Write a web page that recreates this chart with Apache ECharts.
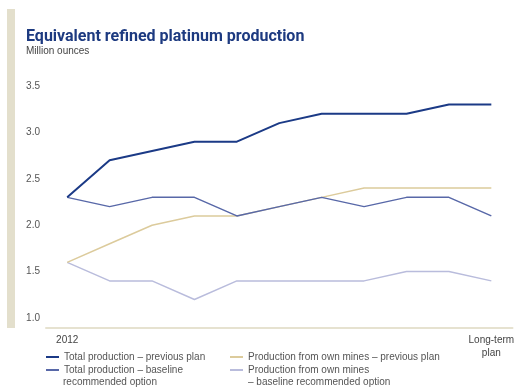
<!DOCTYPE html>
<html>
<head>
<meta charset="utf-8">
<script src="https://cdn.jsdelivr.net/npm/echarts@6/dist/echarts.min.js"></script>
<style>
  html, body { margin: 0; padding: 0; background: #fff; }
  #chart { width: 517px; height: 387px; }
</style>
</head>
<body>
<div id="chart"></div>
<script>
// Annual steps from 2012 out to the long-term plan
const categories = ['2012', '2013', '2014', '2015', '2016', '2017', '2018', '2019', '2020', '2021', 'Long-term\nplan'];

// Million ounces of equivalent refined platinum
const totalPrevious = [2.3, 2.7, 2.8, 2.9, 2.9, 3.1, 3.2, 3.2, 3.2, 3.3, 3.3];
const totalBaseline = [2.3, 2.2, 2.3, 2.3, 2.1, 2.2, 2.3, 2.2, 2.3, 2.3, 2.1];
const ownPrevious   = [1.6, 1.8, 2.0, 2.1, 2.1, 2.2, 2.3, 2.4, 2.4, 2.4, 2.4];
const ownBaseline   = [1.6, 1.4, 1.4, 1.2, 1.4, 1.4, 1.4, 1.4, 1.5, 1.5, 1.4];

const seriesNames = [
  'Total production – previous plan',
  'Total production – baseline\nrecommended option',
  'Production from own mines – previous plan',
  'Production from own mines\n– baseline recommended option'
];

const colors = ['#1b3a86', '#5868a8', '#dccb9c', '#b9bcdc'];
const widths = [2, 1.5, 1.5, 1.5];
const values = [totalPrevious, totalBaseline, ownPrevious, ownBaseline];

const FONT = '"Liberation Sans", Arial, sans-serif';
const LEGEND_TEXT = { fontFamily: FONT, fontSize: 10, fill: '#555' };

const chart = echarts.init(document.getElementById('chart'));

// One legend per entry so each can sit in its own column/row;
// only the first line of a name goes beside the swatch.
function legendAt(name, left, top) {
  return {
    data: [name],
    left: left,
    top: top,
    padding: 0,
    itemWidth: 13,
    itemHeight: 2,
    icon: 'rect',
    selectedMode: false,
    formatter: function (n) { return n.split('\n')[0]; },
    textStyle: { fontFamily: FONT, fontSize: 10, color: '#555' }
  };
}

// Continuation lines of the wrapped legend names
function continuation(name, left, top) {
  return {
    type: 'text',
    left: left,
    top: top,
    silent: true,
    style: Object.assign({ text: name.split('\n')[1] }, LEGEND_TEXT)
  };
}

chart.setOption({
  animation: false,
  backgroundColor: '#fff',
  title: {
    text: 'Equivalent refined platinum production',
    subtext: 'Million ounces',
    left: 21,
    top: 24,
    itemGap: 1,
    textStyle: {
      fontFamily: 'Roboto, "Liberation Sans", sans-serif',
      fontWeight: 'bold',
      fontSize: 16,
      color: '#1d3a80'
    },
    subtextStyle: {
      fontFamily: FONT,
      fontSize: 10,
      color: '#444'
    }
  },
  graphic: [
    {
      type: 'rect',
      left: 7,
      top: 9,
      shape: { width: 8, height: 319 },
      style: { fill: '#e3dfcc' },
      silent: true
    },
    continuation(seriesNames[1], 63, 377),
    continuation(seriesNames[3], 248, 377)
  ],
  legend: [
    legendAt(seriesNames[0], 46, 352),
    legendAt(seriesNames[1], 46, 365),
    legendAt(seriesNames[2], 230, 352),
    legendAt(seriesNames[3], 230, 365)
  ],
  grid: {
    left: 46,
    right: 2,
    top: 86,
    bottom: 69,
    containLabel: false
  },
  xAxis: {
    type: 'category',
    data: categories,
    boundaryGap: true,
    offset: 10,
    axisLine: { lineStyle: { color: '#e6e2d0', width: 2 } },
    axisTick: { show: false },
    axisLabel: {
      interval: 0,
      margin: 6,
      fontFamily: FONT,
      fontSize: 10,
      color: '#444',
      lineHeight: 13,
      formatter: function (v, i) {
        return (i === 0 || i === categories.length - 1) ? v : '';
      }
    },
    splitLine: { show: false }
  },
  yAxis: {
    type: 'value',
    min: 1.0,
    max: 3.5,
    interval: 0.5,
    axisLine: { show: false },
    axisTick: { show: false },
    splitLine: { show: false },
    axisLabel: {
      margin: 6,
      fontFamily: FONT,
      fontSize: 10,
      color: '#555',
      formatter: function (v) { return v.toFixed(1); }
    }
  },
  series: values.map(function (d, i) {
    return {
      name: seriesNames[i],
      type: 'line',
      data: d,
      color: colors[i],
      symbol: 'none',
      z: 10 - i,
      lineStyle: { color: colors[i], width: widths[i] }
    };
  })
});
</script>
</body>
</html>
